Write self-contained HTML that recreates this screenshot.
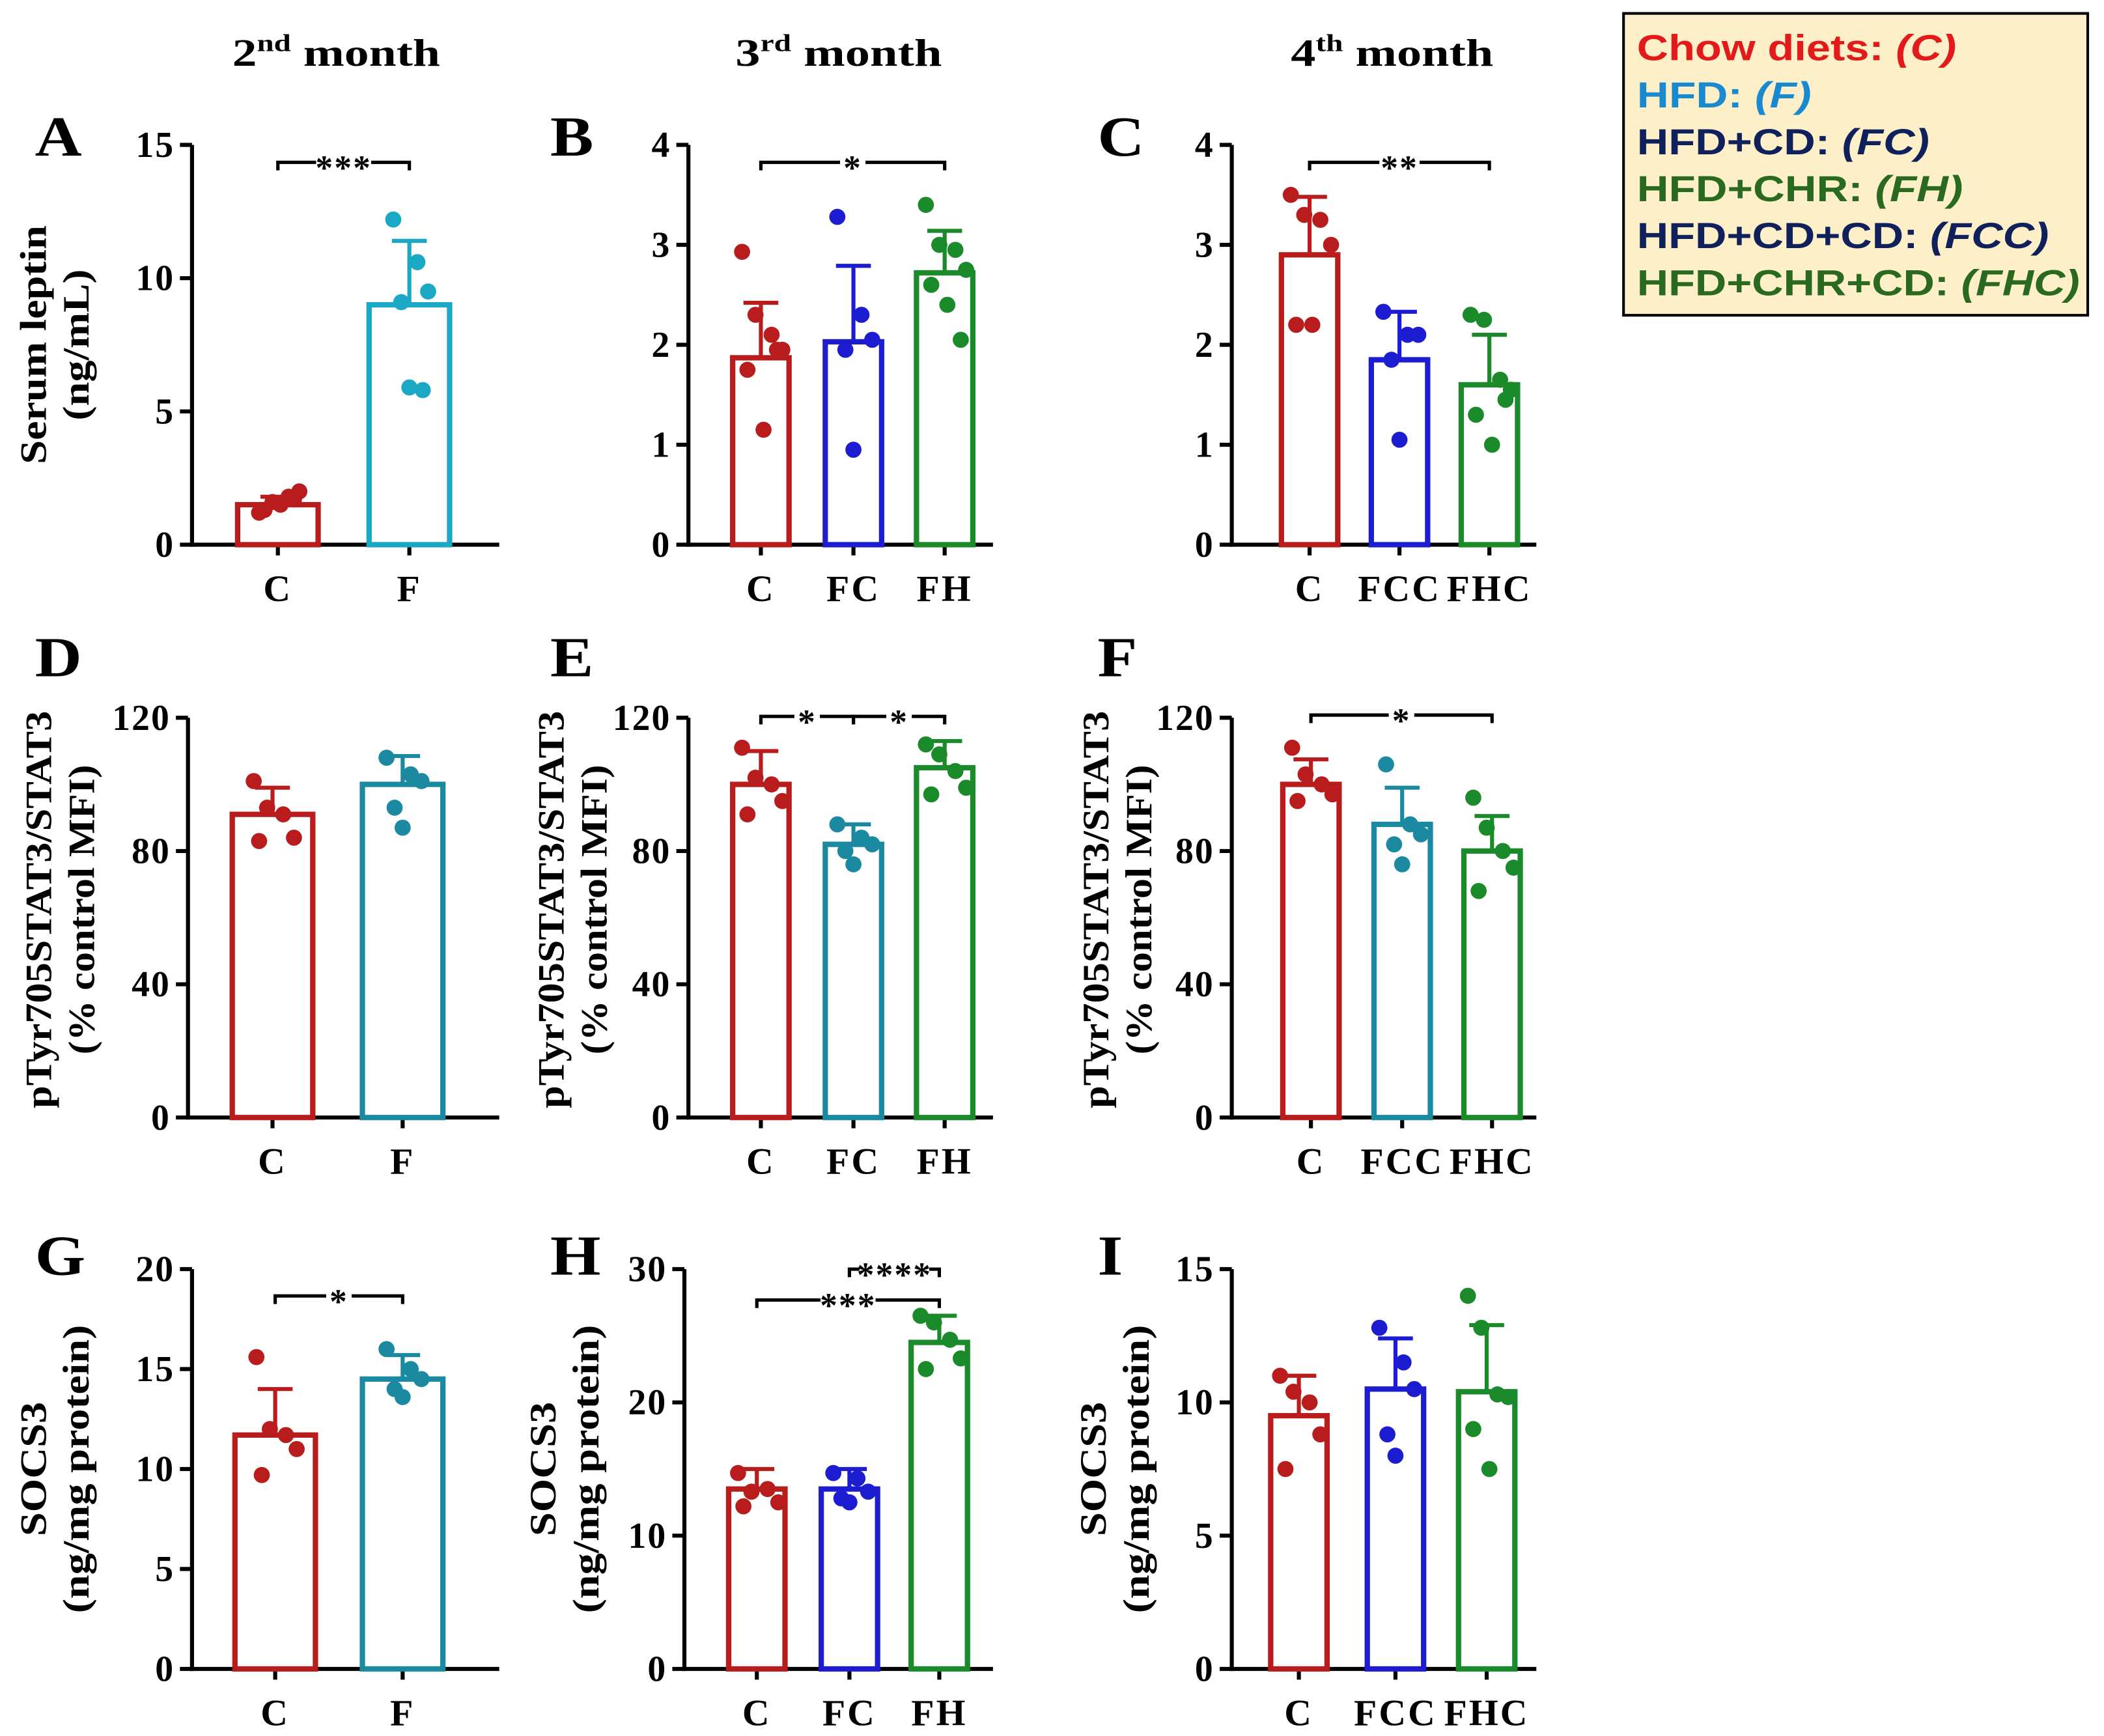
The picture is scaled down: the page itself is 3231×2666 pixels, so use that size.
<!DOCTYPE html>
<html><head><meta charset="utf-8"><style>
html,body{margin:0;padding:0;background:#fff}
svg{display:block}
text{font-family:"Liberation Serif",serif;font-weight:bold;fill:#000}
.leg{font-family:"Liberation Sans",sans-serif;font-weight:bold;font-size:27px}
</style></head><body>
<svg id="fig" width="3231" height="2666" viewBox="0 0 1568 1294" xmlns="http://www.w3.org/2000/svg">
<g>
<text x="173" y="49" font-size="29" textLength="155" lengthAdjust="spacingAndGlyphs">2<tspan font-size="18" dy="-11">nd</tspan><tspan dy="11"> month</tspan></text>
<text x="548" y="49" font-size="29" textLength="154" lengthAdjust="spacingAndGlyphs">3<tspan font-size="18" dy="-11">rd</tspan><tspan dy="11"> month</tspan></text>
<text x="962" y="49" font-size="29" textLength="151" lengthAdjust="spacingAndGlyphs">4<tspan font-size="18" dy="-11">th</tspan><tspan dy="11"> month</tspan></text>
</g>
<g>
<rect x="1210" y="10" width="346" height="225" fill="#fdf0c8" stroke="#000" stroke-width="2"/>
<text class="leg" x="1220" y="45" textLength="238" lengthAdjust="spacingAndGlyphs" style="fill:#e31a1a">Chow diets: <tspan font-style="italic">(C)</tspan></text>
<text class="leg" x="1220" y="80" textLength="130" lengthAdjust="spacingAndGlyphs" style="fill:#1a8ad0">HFD: <tspan font-style="italic">(F)</tspan></text>
<text class="leg" x="1220" y="115" textLength="218" lengthAdjust="spacingAndGlyphs" style="fill:#10205a">HFD+CD: <tspan font-style="italic">(FC)</tspan></text>
<text class="leg" x="1220" y="150" textLength="243" lengthAdjust="spacingAndGlyphs" style="fill:#2a6a20">HFD+CHR: <tspan font-style="italic">(FH)</tspan></text>
<text class="leg" x="1220" y="185" textLength="307" lengthAdjust="spacingAndGlyphs" style="fill:#10205a">HFD+CD+CD: <tspan font-style="italic">(FCC)</tspan></text>
<text class="leg" x="1220" y="220" textLength="330" lengthAdjust="spacingAndGlyphs" style="fill:#2a6a20">HFD+CHR+CD: <tspan font-style="italic">(FHC)</tspan></text>
</g>
</svg>
<script>
const RED="#b81c1c",CYAN="#1aa8c4",TEAL="#1b8aa0",BLUE="#1c1cd0",GREEN="#1a8a2a";
const groupsA=["C","F"],meanA=[1.5,9.0],sdA=[0.3,2.4],ptsA=[[1.2,1.6,1.8,2.0,1.3,1.5,1.7],[12.2,10.6,9.5,9.1,5.9,5.8]];
const groupsB=["C","FC","FH"],meanB=[1.87,2.03,2.72],sdB=[0.55,0.76,0.42],ptsB=[[2.93,2.3,2.1,1.95,1.75,1.15,1.95],[3.28,2.3,2.05,1.95,0.95],[3.4,3.0,2.95,2.75,2.6,2.4,2.05]];
const groupsC=["C","FCC","FHC"],meanC=[2.9,1.85,1.6],sdC=[0.58,0.48,0.5],ptsC=[[3.5,3.3,3.25,3.0,2.2,2.2],[2.33,2.1,2.1,1.85,1.05],[2.3,2.25,1.65,1.55,1.3,1.0,1.45]];
const meanD=[91,100],sdD=[8,8.5],ptsD=[[101,93,91,84,83],[108,103,101,93,87]];
const meanE=[100,82,105],sdE=[10,6,8],ptsE=[[111,102,100,95,91],[88,84,82,80,76],[112,109,104,99,97]];
const meanF=[100,88,80],sdF=[7.5,11,10.5],ptsF=[[111,103,100,97,95],[106,88,85,82,76],[96,87,80,75,68]];
const meanG=[11.7,14.5],sdG=[2.3,1.2],ptsG=[[15.6,12,11.7,11,9.7],[16,15,14.5,14,13.6]];
const meanH=[13.5,13.5,24.5],sdH=[1.5,1.5,2],ptsH=[[14.7,13.3,13.5,12.5,12.2],[14.7,14.3,13.3,12.8,12.5],[26.5,26,24.7,23.3,22.5]];
const meanI=[9.5,10.5,10.4],sdI=[1.5,1.9,2.5],ptsI=[[11,10.4,10,8.8,7.5],[12.8,11.5,10.5,8.8,8],[14,12.8,10.3,10.2,9,7.5]];
const ticks15=[0,5,10,15],ticks4=[0,1,2,3,4],ticks120=[0,40,80,120],ticks20=[0,5,10,15,20],ticks30=[0,10,20,30];

const NS="http://www.w3.org/2000/svg",svg=document.getElementById('fig');
function el(tag,attrs,parent){const e=document.createElementNS(NS,tag);for(const k in attrs)e.setAttribute(k,attrs[k]);(parent||svg).appendChild(e);return e;}
const jit=[[-14,-4,8,16,-10,2,12],[-12,6,14,-6,0,10,-2]];
function panel(p){
  const g=el('g',{});
  
  
  const max=p.ticks[p.ticks.length-1];
  const y=v=>p.y0-(v/max)*(p.y0-p.y1);
  const lt=el('text',{x:p.lx,y:p.ly,'font-size':42,transform:`translate(${p.lx},0) scale(1.15,1) translate(${-p.lx},0)`},g);lt.textContent=p.letter;
  
  
  el('line',{x1:p.ax,y1:p.y1,x2:p.ax,y2:p.y0+1.5,stroke:'#000','stroke-width':3},g);
  el('line',{x1:p.ax-1.5,y1:p.y0,x2:p.xe,y2:p.y0,stroke:'#000','stroke-width':3},g);
  p.ticks.forEach(t=>{
    el('line',{x1:p.ax-9,y1:y(t),x2:p.ax,y2:y(t),stroke:'#000','stroke-width':3},g);
    const tx=el('text',{x:p.ax-13,y:y(t)+9,'font-size':27,'text-anchor':'end','letter-spacing':1},g);tx.textContent=t;
    
    
  });
  p.centers.forEach((cx,i)=>{
    const c=p.colors[i],m=p.mean[i],s=p.sd[i];
    el('line',{x1:cx,y1:p.y0,x2:cx,y2:p.y0+8,stroke:'#000','stroke-width':3},g);
    const b=el('rect',{x:cx-p.bw/2,y:y(m),width:p.bw,height:p.y0-y(m),fill:'none',stroke:c,'stroke-width':4},g);
    
    
    el('line',{x1:cx,y1:y(m),x2:cx,y2:y(m+s),stroke:c,'stroke-width':3},g);
    el('line',{x1:cx-13,y1:y(m+s),x2:cx+13,y2:y(m+s),stroke:c,'stroke-width':3},g);
    p.pts[i].forEach((v,j)=>{
      const d=el('circle',{cx:cx+jit[i%2][j%7],cy:y(v),r:6,fill:c},g);
      
      
    });
    const xl=el('text',{x:cx,y:p.y0+42,'font-size':28,'text-anchor':'middle','letter-spacing':1.5},g);xl.textContent=p.groups[i];
    
    
  });
  p.sig.forEach(s=>{
    const x1=p.centers[s[0]],x2=p.centers[s[1]],yy=s[3],tx=(x1+x2)/2;
    const w=s[2].length*11+8;
    el('path',{d:`M${x1},${yy+6}V${yy}H${tx-w/2}M${tx+w/2},${yy}H${x2}V${yy+6}`,fill:'none',stroke:'#000','stroke-width':2.5},g);
    const st=el('text',{x:tx,y:yy+13,'font-size':26,'text-anchor':'middle','letter-spacing':1},g);st.textContent=s[2];
    
    
  });
  const cy=(p.y0+p.y1)/2+(p.ydy||0);
  p.ylab.forEach((t,k)=>{
    const sc=p.ysc||1.15;
    const yl=el('text',{x:0,y:0,'font-size':28,'text-anchor':'middle',transform:`translate(${p.ylx[k]},${cy}) rotate(-90) scale(${sc},1)`},g);yl.textContent=t;
    
    
  });
}
const r1={y0:406,y1:108,ly:116},r2={y0:833,y1:535,ly:504},r3={y0:1244,y1:946,ly:950};
panel({letter:'A',lx:26,ax:143,xe:372,...r1,ticks:ticks15,groups:groupsA,mean:meanA,sd:sdA,pts:ptsA,centers:[207,305],bw:60,colors:[RED,CYAN],sig:[[0,1,'***',121]],ylab:['Serum leptin','(ng/mL)'],ylx:[34,66]});
panel({letter:'B',lx:410,ax:513,xe:740,...r1,ticks:ticks4,groups:groupsB,mean:meanB,sd:sdB,pts:ptsB,centers:[567,636,704],bw:42,colors:[RED,BLUE,GREEN],sig:[[0,2,'*',121]],ylab:[],ylx:[]});
panel({letter:'C',lx:818,ax:918,xe:1145,...r1,ticks:ticks4,groups:groupsC,mean:meanC,sd:sdC,pts:ptsC,centers:[976,1043,1110],bw:42,colors:[RED,BLUE,GREEN],sig:[[0,2,'**',121]],ylab:[],ylx:[]});
const pt={ysc:1.08,ydy:-6};
panel({letter:'D',lx:26,ax:140,xe:372,...r2,...pt,ticks:ticks120,groups:groupsA,mean:meanD,sd:sdD,pts:ptsD,centers:[203,300],bw:60,colors:[RED,TEAL],sig:[],ylab:['pTyr705STAT3/STAT3','(% control MFI)'],ylx:[38,70]});
panel({letter:'E',lx:410,ax:513,xe:740,...r2,...pt,ticks:ticks120,groups:groupsB,mean:meanE,sd:sdE,pts:ptsE,centers:[567,636,704],bw:42,colors:[RED,TEAL,GREEN],sig:[[0,1,'*',534],[1,2,'*',534]],ylab:['pTyr705STAT3/STAT3','(% control MFI)'],ylx:[420,452]});
panel({letter:'F',lx:818,ax:918,xe:1145,...r2,...pt,ticks:ticks120,groups:groupsC,mean:meanF,sd:sdF,pts:ptsF,centers:[977,1045,1112],bw:42,colors:[RED,TEAL,GREEN],sig:[[0,2,'*',533]],ylab:['pTyr705STAT3/STAT3','(% control MFI)'],ylx:[826,858]});
panel({letter:'G',lx:26,ax:143,xe:372,...r3,ticks:ticks20,groups:groupsA,mean:meanG,sd:sdG,pts:ptsG,centers:[205,300],bw:60,colors:[RED,TEAL],sig:[[0,1,'*',966]],ylab:['SOCS3','(ng/mg protein)'],ylx:[34,66]});
panel({letter:'H',lx:410,ax:510,xe:740,...r3,ticks:ticks30,groups:groupsB,mean:meanH,sd:sdH,pts:ptsH,centers:[564,633,700],bw:42,colors:[RED,BLUE,GREEN],sig:[[0,2,'***',969],[1,2,'****',946]],ylab:['SOCS3','(ng/mg protein)'],ylx:[414,446]});
panel({letter:'I',lx:818,ax:918,xe:1145,...r3,ticks:ticks15,groups:groupsC,mean:meanI,sd:sdI,pts:ptsI,centers:[968,1040,1108],bw:42,colors:[RED,BLUE,GREEN],sig:[],ylab:['SOCS3','(ng/mg protein)'],ylx:[824,856]});
</script>
</body></html>
